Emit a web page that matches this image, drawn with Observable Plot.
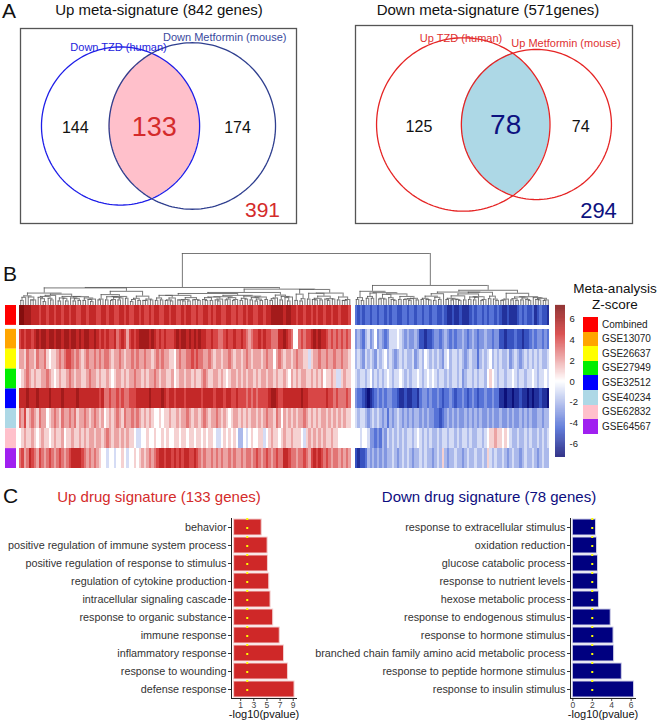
<!DOCTYPE html>
<html>
<head>
<meta charset="utf-8">
<script src="https://cdn.jsdelivr.net/npm/d3@7"></script>
<script src="https://cdn.jsdelivr.net/npm/@observablehq/plot@0.6"></script>
<style>
  body { margin: 0; background: #fff; }
  #fig { position: relative; width: 660px; height: 725px; overflow: hidden; background: #fff;
         font-family: "Liberation Sans", Arial, sans-serif; color: #111; }
  .t { position: absolute; white-space: nowrap; line-height: 1; }
</style>
</head>
<body>
<div id="fig"></div>
<script>
// ---------------- DATA ----------------
// Panel A: Venn counts [only A, A∩B, only B] and outside counts
const vennUpTitle = "Up meta-signature (842 genes)";
const vennUpSets = ["Down TZD (human)", "Down Metformin (mouse)"];
const vennUpCounts = [144, 133, 174];
const vennUpOutside = 391;
const vennDownTitle = "Down meta-signature (571genes)";
const vennDownSets = ["Up TZD (human)", "Up Metformin (mouse)"];
const vennDownCounts = [125, 78, 74];
const vennDownOutside = 294;

// Panel B: heatmap rows (datasets) and Z-scores (133 up genes, 78 down genes)
const rowNames = ["Combined", "GSE13070", "GSE26637", "GSE27949", "GSE32512", "GSE40234", "GSE62832", "GSE64567"];
const rowColors = ["#FF0000", "#FFA500", "#FFFF00", "#00EE00", "#0000FF", "#ADD8E6", "#FFC0CB", "#A020F0"];
const zTicks = [6, 4, 2, 0, -2, -4, -6];

const upCombined = [7,7,6,6,6,5,5,5,4,5, 5,4,5,5,4,5,5,4,5,5, 4,5,5,4,4,5,5,4,5,5, 5,4,4,5,5,4,5,5,4,4,
  5,5,4,5,4,4,5,5,4,5, 4,4,5,4,5,5,4,4,5,5, 4,5,5,4,4,5,4,5,5,4, 4,5,4,4,5,5,4,5,4,5,
  5,4,4,5,5,4,4,5,4,4, 5,4,5,5,4,4,5,5,4,5, 5,6,6,6,6,6,5,6,6,5, 5,4,5,5,4,5,5,4,5,4,
  5,5,4,5,5,4,5,5,4,5, 5,5,4];
const up13070 = [4,5,4,5,5,4,5,6,5,6, 6,5,6,6,5,6,6,5,6,6, 5,6,6,5,6,5,6,6,5,5, 6,5,4,5,4,5,4,4,5,3,
  4,5,4,2,4,5,4,5,6,6, 6,6,5,6,5,4,5,4,5,4, 4,4,5,6,5,6,6,5,6,5, 6,5,6,5,5,4,4,5,4,4,
  3,3,4,5,4,4,5,4,4,5, 4,3,2,3,4,4,5,4,5,4, 4,3,3,3,5,5,6,5,4,3, 0,0,3,4,3,4,4,5,6,5,
  6,5,5,4,3,4,3,4,3,4, 3,4,3];
const up26637 = [2,2,1,3,2,2,1,3,2,2, 3,1,0,1,1,2,3,2,3,4, 4,3,2,3,2,1,2,3,2,2, 3,2,3,2,3,3,2,1,2,2,
  3,2,1,2,2,3,2,3,2,2, 3,2,2,1,2,3,2,3,2,2, 1,1,0,2,3,2,2,3,3,4, 3,4,3,3,2,2,3,2,1,2,
  2,1,2,2,3,2,1,2,2,1, 2,3,2,1,2,2,2,1,2,3, 2,2,0,2,3,2,1,2,2,1, 2,3,2,2,1,1,-1,1,2,2,
  3,2,2,3,2,2,3,2,2,3, 2,2,1];
const up27949 = [0,1,2,3,2,1,2,1,1,2, 2,3,2,1,0,1,2,1,1,2, 3,2,1,2,2,1,1,2,3,2, 2,1,2,1,1,2,1,0,1,2,
  2,1,2,1,2,2,3,2,2,1, 2,1,2,2,3,2,1,2,2,1, 1,2,0,1,2,2,1,2,2,1, 2,1,1,2,3,2,1,1,2,2,
  1,2,1,0,1,2,2,1,2,1, 2,1,2,2,1,2,1,2,2,1, 2,2,1,2,1,1,2,1,0,2, 1,2,1,2,2,1,1,2,1,2,
  1,2,0,1,1,2,1,-1,-1,1, 2,1,1];
const up32512 = [5,5,5,6,5,5,5,6,5,5, 5,5,6,5,5,5,5,6,5,5, 5,5,5,6,5,5,5,5,5,5, 5,5,4,5,3,3,4,3,3,4,
  3,4,3,3,4,4,4,5,5,5, 5,5,6,5,5,5,5,6,5,4, 5,5,4,5,5,5,4,5,5,5, 5,5,5,4,5,5,5,5,4,5,
  5,5,4,5,5,4,4,5,4,4, 4,3,4,3,4,3,4,4,4,4, 5,6,6,5,4,4,5,5,5,5, 5,5,5,6,5,5,4,4,4,4,
  4,4,4,5,4,4,3,4,3,3, 3,4,3];
const up40234 = [3,2,4,1,2,3,2,1,3,2, 2,0,1,2,3,2,1,3,2,2, 3,2,3,1,2,2,3,2,1,2, 3,2,1,2,0,1,2,1,2,3,
  2,1,3,2,2,3,2,3,2,1, 2,1,2,1,0,0,1,0,1,1, 2,1,1,2,1,2,2,3,2,1, 2,2,1,2,3,2,1,2,2,3,
  2,1,2,1,0,1,2,2,1,2, 1,2,1,2,2,1,2,1,2,3, 2,2,1,3,2,0,2,1,2,1, 2,1,2,2,3,2,1,2,1,2,
  1,2,2,1,2,1,2,1,2,1, 2,1,1];
const up62832 = [0,1,2,1,1,2,1,0,1,2, 1,1,0,1,2,1,1,2,0,1, 1,2,1,1,2,1,2,1,2,2, 1,2,2,1,2,3,2,1,2,2,
  1,2,1,2,1,1,0,-1,-1,0, 0,1,0,0,1,0,0,1,0,1, 0,0,1,1,0,1,1,0,1,1, 0,1,1,0,1,0,1,1,0,-1,
  -1,0,1,0,1,0,1,0,-2,-2, 0,-1,0,1,0,0,1,1,-1,0, 1,2,1,1,0,1,2,1,1,2, 1,1,1,0,-1,1,2,1,2,1,
  2,1,2,1,1,2,1,1,0,0, 0,0,0];
const up64567 = [3,4,2,3,5,4,3,2,4,3, 2,3,4,3,2,3,4,3,2,3, 4,5,5,5,5,4,3,2,3,2, 3,2,1,0,0,-1,0,0,-1,0,
  0,1,0,-1,0,0,1,0,1,2, 1,2,3,2,3,4,5,5,4,5, 5,4,5,4,5,4,5,5,4,4, 5,4,3,2,3,2,2,3,2,3,
  2,3,2,2,3,2,3,2,2,3, 2,3,3,2,3,4,3,2,3,4, 3,2,3,4,3,3,5,5,4,3, 3,2,3,3,4,3,2,4,5,4,
  5,4,3,4,3,2,3,3,2,3, 2,3,2];

const downCombined = [-4,-5,-4,-5,-4,-4,-5,-4,-4,-5, -4,-4,-5,-4,-5,-4,-4,-5,-5,-4, -4,-5,-4,-4,-5,-4,-4,-5,-4,-4,
  -5,-4,-4,-5,-5,-4,-5,-6,-6,-5, -6,-6,-5,-6,-6,-6,-5,-4,-5,-4, -4,-5,-4,-5,-4,-4,-5,-4,-5,-6,
  -6,-5,-6,-6,-6,-5,-4,-5,-4,-5, -5,-4,-6,-5,-4,-5,-5,-6];
const down13070 = [-3,-2,-3,-4,-2,-1,-3,-2,0,-3, -2,-3,-4,-3,-1,-1,-1,0,-1,-2, -3,-2,-3,-3,-2,-3,-5,-5,-6,-5,
  -5,-4,-3,-3,-4,-3,-2,-3,-4,-3, -4,-3,-3,-2,-3,-4,-3,-2,-3,-4, -3,-3,-2,-3,-3,-4,-3,-3,-5,-5,
  -6,-5,-5,-5,-4,-5,-5,-6,-5,-5, -4,-3,-4,-3,-3,-4,-3,-4];
const down26637 = [-2,-1,-2,-3,-1,-2,-1,-2,-3,-1, -2,-1,0,-2,-1,-2,-3,-2,-1,-2, -1,-2,-2,-1,-3,-2,-1,-2,0,-1,
  -2,-1,-2,-1,-2,-3,-1,0,-2,-1, -1,-2,-1,-2,-3,-2,-1,-2,-2,-4, -2,-1,-2,-1,0,-2,-1,-2,-1,-2,
  -2,-1,-3,-2,-1,-2,-3,-2,-1,-2, -1,-2,-1,-2,-1,-2,-2,-1];
const down27949 = [-1,-2,-1,-1,-2,-1,0,-2,-1,-2, -1,-2,-1,0,-1,-2,-1,-1,0,-1, -2,-1,-2,-1,-1,0,-1,-2,-1,0,
  -1,0,-1,-2,-1,-1,-2,-1,-2,-1, -1,-2,-1,-3,-2,-1,-1,-2,-1,-2, -1,-1,-2,0,1,0,-1,-2,-1,-1,
  -2,-1,-1,0,-1,-2,-1,-1,-2,-1, -1,0,-1,-2,-1,-1,0,-1];
const down32512 = [-3,-4,-4,-5,-6,-7,-6,-5,-4,-3, -4,-3,-4,-3,-3,-4,-4,-5,-6,-6, -5,-6,-6,-5,-5,-6,-4,-3,-3,-4,
  -3,-4,-4,-3,-4,-5,-4,-4,-3,-4, -5,-4,-4,-3,-4,-5,-4,-3,-4,-5, -4,-4,-3,-4,-4,-3,-4,-4,-6,-6,
  -7,-6,-6,-7,-6,-6,-5,-6,-6,-7, -6,-7,-6,-6,-5,-6,-6,-7];
const down40234 = [-1,-2,-1,-1,-2,-3,-2,-1,-2,-1, -2,-3,-2,-4,-2,-3,-2,-1,-2,-3, -2,-3,-2,-3,-2,-2,-3,-2,-3,-2,
  -3,-3,-4,-4,-5,-4,-3,-2,-3,-2, -3,-2,-3,-3,-2,-3,-2,-3,-2,-3, -2,-3,-3,-2,-3,-2,-3,-3,-2,-3,
  -3,-2,-3,-2,-3,-3,-2,-3,-2,-3, -2,-3,-3,-2,-2,-3,-2,-2];
const down62832 = [0,0,-1,0,0,-1,-3,-3,-4,-3, -4,-2,-3,-1,-2,-1,-2,-1,-2,-1, -2,-1,-1,-2,-1,0,-1,-2,-1,-2,
  -1,-2,-2,-1,-2,-1,-1,-2,-1,-1, -2,-1,-2,-1,-1,-2,-1,-2,-2,-1, -1,-2,-1,0,1,1,2,1,1,0,
  1,0,-1,-2,-2,-1,-2,-2,-1,-2, -1,-2,-2,-1,-2,-1,-2,-1];
const down64567 = [-5,-6,-5,-5,-4,-2,-3,-2,-3,-2, -3,-2,-3,-2,-2,-1,-2,-3,-2,-1, -2,-1,-2,-3,-2,-2,-1,-2,-1,-2,
  -2,-3,-2,-1,-2,1,-2,-3,-2,-2, -1,-2,-2,-3,-2,-1,-2,-2,-1,-2, -2,-1,-2,1,-1,-2,-1,-2,-2,-1,
  -2,-3,-2,-1,-2,-2,-3,-2,-1,-2, -2,-1,-2,-3,-2,-1,-2,-2];

// Panel C: GO enrichment (-log10 p)
const upDrugTitle = "Up drug signature (133 genes)";
const upTerms = ["behavior", "positive regulation of immune system process", "positive regulation of response to stimulus",
  "regulation of cytokine production", "intracellular signaling cascade", "response to organic substance",
  "immune response", "inflammatory response", "response to wounding", "defense response"];
const upLogP = [4.2, 5.1, 5.15, 5.35, 5.55, 5.95, 6.95, 7.6, 8.2, 9.2];
const downDrugTitle = "Down drug signature (78 genes)";
const downTerms = ["response to extracellular stimulus", "oxidation reduction", "glucose catabolic process",
  "response to nutrient levels", "hexose metabolic process", "response to endogenous stimulus",
  "response to hormone stimulus", "branched chain family amino acid metabolic process",
  "response to peptide hormone stimulus", "response to insulin stimulus"];
const downLogP = [2.39, 2.49, 2.59, 2.6, 2.69, 3.9, 4.19, 4.25, 5.04, 6.3];
const pThreshold = 2;
const upTicks = [1, 3, 5, 7, 9];
const downTicks = [0, 2, 4, 6];

// ---------------- HELPERS ----------------
const FONT = "'Liberation Sans', Arial, sans-serif";
const fig = document.getElementById("fig");
function place(node, left, top) {
  node.style.position = "absolute";
  node.style.left = left + "px";
  node.style.top = top + "px";
  fig.appendChild(node);
  return node;
}
function label(text, x, y, size, color = "#111", align = "left") {
  const d = document.createElement("div");
  d.className = "t";
  d.textContent = text;
  d.style.fontSize = size + "px";
  d.style.color = color;
  d.style.left = x + "px";
  d.style.top = y + "px";
  if (align === "center") d.style.transform = "translateX(-50%)";
  fig.appendChild(d);
  return d;
}
const baseStyle = {overflow: "visible", background: "transparent", fontFamily: FONT};

// ---------------- PANEL A: Venn ----------------
function lensArea(r1, r2, d) {
  if (d >= r1 + r2) return 0;
  if (d <= Math.abs(r1 - r2)) return Math.PI * Math.min(r1, r2) ** 2;
  const a1 = Math.acos((d * d + r1 * r1 - r2 * r2) / (2 * d * r1));
  const a2 = Math.acos((d * d + r2 * r2 - r1 * r1) / (2 * d * r2));
  return r1 * r1 * a1 + r2 * r2 * a2 - 0.5 * Math.sqrt((-d + r1 + r2) * (d + r1 - r2) * (d - r1 + r2) * (d + r1 + r2));
}
function vennLayout(counts, W, H, fillFrac) {
  const [a, ab, b] = counts;
  let r1 = Math.sqrt(a + ab), r2 = Math.sqrt(b + ab);
  const target = Math.PI * ab;
  let lo = Math.abs(r1 - r2) + 1e-9, hi = r1 + r2;
  for (let i = 0; i < 80; i++) {
    const mid = (lo + hi) / 2;
    if (lensArea(r1, r2, mid) > target) lo = mid; else hi = mid;
  }
  let d = (lo + hi) / 2;
  const s = fillFrac * W / (r1 + r2 + d);
  r1 *= s; r2 *= s; d *= s;
  const x0 = (W - (r1 + d + r2)) / 2;
  const c1 = x0 + r1, c2 = c1 + d;
  return {r1, r2, c1, c2, cy: H / 2};
}
function venn(counts, sets, outside, o) {
  const {W, H} = o;
  const L = vennLayout(counts, W, H, 0.848);
  const circ = [];
  [[0, L.c1, L.r1], [1, L.c2, L.r2]].forEach(([k, c, r]) => {
    for (let t = 0; t <= 360; t += 2) {
      const a = t * Math.PI / 180;
      circ.push({k, x: c + r * Math.cos(a), y: L.cy + r * Math.sin(a)});
    }
  });
  const half = (r, dx) => Math.sqrt(Math.max(0, r * r - dx * dx));
  const lens = d3.range(L.c2 - L.r2, L.c1 + L.r1 + 0.25, 0.25).map(x => {
    const h = Math.min(half(L.r1, x - L.c1), half(L.r2, x - L.c2));
    return {x, y1: L.cy - h, y2: L.cy + h};
  });
  const regions = [
    {x: ((L.c1 - L.r1) + (L.c2 - L.r2)) / 2, n: counts[0], big: false},
    {x: ((L.c2 - L.r2) + (L.c1 + L.r1)) / 2, n: counts[1], big: true},
    {x: ((L.c1 + L.r1) + (L.c2 + L.r2)) / 2, n: counts[2], big: false}
  ];
  const catPos = [
    {c: L.c1, r: L.r1, ang: -1.5, extra: -1, text: sets[0], color: o.catColors[0]},
    {c: L.c2, r: L.r2, ang: 20, extra: 11.5, text: sets[1], color: o.catColors[1]}
  ].map(p => {
    const a = p.ang * Math.PI / 180, R = p.r + p.extra;
    return {x: p.c + R * Math.sin(a), y: L.cy - R * Math.cos(a), text: p.text, color: p.color};
  });
  return Plot.plot({
    width: W, height: H, margin: 0,
    x: {type: "identity", axis: null}, y: {type: "identity", axis: null},
    color: {type: "identity"},
    style: baseStyle,
    marks: [
      Plot.areaY(lens, {x: "x", y1: "y1", y2: "y2", fill: o.lensFill, curve: "linear"}),
      Plot.line(circ, {x: "x", y: "y", z: "k", stroke: d => o.strokes[d.k], strokeWidth: 1.3}),
      Plot.frame({stroke: "#555", strokeWidth: 1.3}),
      Plot.text(regions, {filter: d => !d.big, x: "x", y: () => L.cy + 2, text: d => String(d.n),
        fontSize: 16, fill: "#111", lineAnchor: "middle"}),
      Plot.text(regions, {filter: d => d.big, x: "x", y: () => L.cy + 1, text: d => String(d.n),
        fontSize: o.bigSize, fill: o.bigColor, lineAnchor: "middle"}),
      Plot.text(catPos, {x: "x", y: "y", text: "text", fill: "color", fontSize: 11, lineAnchor: "middle"}),
      Plot.text([outside], {frameAnchor: "bottom-right", dx: -34, dy: -13, text: d => String(d),
        fontSize: o.outSize, fill: o.bigColor, lineAnchor: "middle", textAnchor: "middle"})
    ]
  });
}

label("A", 2, 0, 21);
label(vennUpTitle, 159, 2, 15, "#111", "center");
label(vennDownTitle, 488, 2, 15, "#111", "center");
place(venn(vennUpCounts, vennUpSets, vennUpOutside, {
  W: 276, H: 195, strokes: ["#1E1EE8", "#2F3F8F"], catColors: ["#2323DD", "#3A4A9E"],
  lensFill: "#FFC0CB", bigSize: 27, bigColor: "#D42B2B", outSize: 21
}), 20, 28);
place(venn(vennDownCounts, vennDownSets, vennDownOutside, {
  W: 277, H: 198, strokes: ["#E52424", "#E52424"], catColors: ["#E03030", "#E03030"],
  lensFill: "#ADD8E6", bigSize: 28, bigColor: "#0D1280", outSize: 22
}), 355, 25);

// ---------------- PANEL B: heatmap ----------------
label("B", 3, 263, 21);
const upRows = [upCombined, up13070, up26637, up27949, up32512, up40234, up62832, up64567];
const downRows = [downCombined, down13070, down26637, down27949, down32512, down40234, down62832, down64567];
const nUp = upCombined.length, nDown = downCombined.length, nCols = nUp + nDown;
const matrix = rowNames.map((_, r) => upRows[r].concat(downRows[r]));
const colGap = 1.6, rowGap = 0.2;
const colX = j => j + (j >= nUp ? colGap : 0);
const rowY = r => r === 0 ? 0 : r + rowGap;
const cells = [];
matrix.forEach((vals, r) => vals.forEach((z, j) => cells.push({x1: colX(j), x2: colX(j) + 1, y1: rowY(r), y2: rowY(r) + 1, z})));
const xDomain = [0, nCols + colGap];
const xRange = [19, 549];
const yDomain = [0, rowNames.length + rowGap];
const colorScale = {type: "linear", domain: [-7.3, -4.5, 0, 4.5, 7.3],
  range: ["#06066E", "#4262D2", "#FFFFFF", "#D32F2F", "#7A0A0A"], clamp: true};

// dendrogram: complete-linkage clustering restricted to neighbouring columns (keeps leaf order)
const vec = d3.range(nCols).map(j => matrix.map(row => row[j]));
const D = vec.map(a => vec.map(b => Math.sqrt(d3.sum(a, (v, k) => (v - b[k]) ** 2))));
const linkage = (A, B) => { let m = 0; for (const i of A.m) for (const j of B.m) if (D[i][j] > m) m = D[i][j]; return m; };
let clusters = d3.range(nCols).map(j => ({m: [j], x: colX(j) + 0.5, h: 0}));
let gaps = d3.range(nCols - 1).map(i => linkage(clusters[i], clusters[i + 1]));
const vSegs = [], hSegs = [];
while (clusters.length > 1) {
  const i = d3.minIndex(gaps);
  const A = clusters[i], B = clusters[i + 1];
  const h = Math.max(gaps[i], A.h, B.h);
  vSegs.push({x: A.x, y1: A.h, y2: h}, {x: B.x, y1: B.h, y2: h});
  hSegs.push({y: h, x1: A.x, x2: B.x});
  const C = {m: A.m.concat(B.m), x: (A.x + B.x) / 2, h};
  clusters.splice(i, 2, C);
  gaps.splice(i, 1);
  if (i > 0) gaps[i - 1] = linkage(clusters[i - 1], C);
  if (i < clusters.length - 1) gaps[i] = linkage(C, clusters[i + 1]);
}
const rootH = clusters[0].h;

place(Plot.plot({
  width: 560, height: 55, margin: 0,
  x: {domain: xDomain, range: xRange, axis: null},
  y: {domain: [0, rootH], range: [55, 3], axis: null},
  style: baseStyle,
  marks: [
    Plot.ruleX(vSegs, {x: "x", y1: "y1", y2: "y2", stroke: "#555", strokeWidth: 0.8}),
    Plot.ruleY(hSegs, {y: "y", x1: "x1", x2: "x2", stroke: "#555", strokeWidth: 0.8})
  ]
}), 0, 250);

place(Plot.plot({
  width: 560, height: 163, margin: 0,
  x: {domain: xDomain, range: xRange, axis: null},
  y: {domain: yDomain, range: [0, 163], axis: null},
  color: colorScale,
  style: baseStyle,
  marks: [
    Plot.rect(cells, {x1: "x1", x2: "x2", y1: "y1", y2: "y2", fill: "z", shapeRendering: "crispEdges"})
  ]
}), 0, 305);

// dataset annotation squares
place(Plot.plot({
  width: 19, height: 163, margin: 0,
  x: {domain: [0, 1], range: [5, 16], axis: null},
  y: {domain: yDomain, range: [0, 163], axis: null},
  color: {type: "identity"},
  style: baseStyle,
  marks: [
    Plot.rect(rowNames, {x1: 0, x2: 1, y1: (d, i) => rowY(i), y2: (d, i) => rowY(i) + 1, fill: (d, i) => rowColors[i]})
  ]
}), 0, 305);

// colour bar
const barSteps = d3.range(-7.3, 7.3, 0.05);
place(Plot.plot({
  width: 40, height: 152, marginTop: 0, marginBottom: 0, marginLeft: 0, marginRight: 30,
  x: {domain: [0, 1], axis: null},
  y: {domain: [-7.3, 7.3], range: [152, 0]},
  color: colorScale,
  style: baseStyle,
  marks: [
    Plot.rect(barSteps, {x1: 0, x2: 1, y1: d => d, y2: d => d + 0.06, fill: d => d + 0.025}),
    Plot.axisY({anchor: "right", ticks: zTicks, tickSize: 0, tickPadding: 4, tickFormat: d => String(d),
      fontSize: 9.5, color: "#222", label: null})
  ]
}), 555, 305);

// legend
label("Meta-analysis", 615, 282, 13.5, "#111", "center");
label("Z-score", 615, 298, 13.5, "#111", "center");
rowNames.forEach((name, i) => {
  const sw = document.createElement("div");
  sw.style.width = "15px"; sw.style.height = "14.6px"; sw.style.background = rowColors[i];
  place(sw, 583, 317 + i * 14.6);
  label(name, 602, 317 + i * 14.6 + 2.5, 10, "#222");
});

// ---------------- PANEL C: bar charts ----------------
label("C", 3, 485, 21);
label(upDrugTitle, 159, 489, 15, "#D42B2B", "center");
label(downDrugTitle, 489, 489, 15, "#0D0D80", "center");

function barPlot({terms, values, width, marginLeft, marginRight, domain, ticks, fill, stroke}) {
  const data = terms.map((t, i) => ({term: t, value: values[i]}));
  return Plot.plot({
    width, height: 225, marginLeft, marginRight, marginTop: 18, marginBottom: 27,
    x: {domain, label: null},
    y: {domain: terms, paddingInner: 0.1, paddingOuter: 0.05, label: null},
    style: baseStyle,
    marks: [
      Plot.barX(data, {x: "value", y: "term", fill, stroke, strokeWidth: 1}),
      Plot.ruleX([pThreshold], {stroke: "#FFFF00", strokeWidth: 2, strokeDasharray: "2,7"}),
      Plot.axisY({tickSize: 3, tickPadding: 2, fontSize: 10.8, color: "#333", label: null}),
      Plot.axisX({ticks, tickFormat: d => String(d), tickSize: 3, tickPadding: 0, fontSize: 8.5, color: "#444", label: null}),
      Plot.frame({anchor: "left", stroke: "#222"}),
      Plot.frame({anchor: "bottom", stroke: "#222"}),
      Plot.text(["-log10(pvalue)"], {frameAnchor: "bottom", dy: 19.5, fontSize: 11, fill: "#111"})
    ]
  });
}
place(barPlot({terms: upTerms, values: upLogP, width: 300, marginLeft: 231, marginRight: 4,
  domain: [-0.4, 9.5], ticks: upTicks, fill: "#CF2828", stroke: "#F3D0D0"}), 0, 500);
place(barPlot({terms: downTerms, values: downLogP, width: 330, marginLeft: 260, marginRight: 5,
  domain: [-0.24, 6.45], ticks: downTicks, fill: "#000080", stroke: "#D0D0E8"}), 310, 500);
</script>
</body>
</html>
